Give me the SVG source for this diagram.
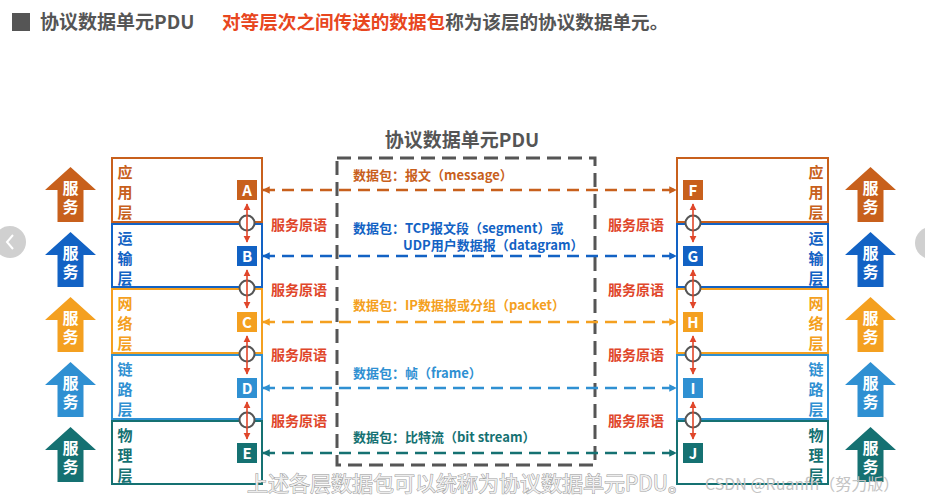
<svg xmlns="http://www.w3.org/2000/svg" width="925" height="500" viewBox="0 0 925 500">
<defs>
<style>
text{font-family:"Noto Sans CJK SC","Noto Sans",sans-serif;font-weight:bold}
.lay{fill:#fff;stroke-width:2}
.lt{font-size:15px;writing-mode:vertical-rl;letter-spacing:5px}
.let{font-size:15px;fill:#fff;text-anchor:middle}
.svc{font-size:16px;fill:#fff;writing-mode:vertical-rl;letter-spacing:3px}
.prim{font-size:14px;fill:#E0462A}
.pkt{font-size:13px}
.conn{fill:none;stroke-width:2.5;stroke-dasharray:12 7}
.sap{fill:#fff;stroke:#555;stroke-width:2}
.red{stroke:#E0462A;stroke-width:1.6;marker-start:url(#mr);marker-end:url(#mr)}
</style>
<marker id="m1" viewBox="0 0 10 10" refX="9" refY="5" markerWidth="3" markerHeight="3" orient="auto-start-reverse"><path d="M0,0L10,5L0,10z" fill="#C8601C"/></marker>
<marker id="m2" viewBox="0 0 10 10" refX="9" refY="5" markerWidth="3" markerHeight="3" orient="auto-start-reverse"><path d="M0,0L10,5L0,10z" fill="#1262C4"/></marker>
<marker id="m3" viewBox="0 0 10 10" refX="9" refY="5" markerWidth="3" markerHeight="3" orient="auto-start-reverse"><path d="M0,0L10,5L0,10z" fill="#F4A020"/></marker>
<marker id="m4" viewBox="0 0 10 10" refX="9" refY="5" markerWidth="3" markerHeight="3" orient="auto-start-reverse"><path d="M0,0L10,5L0,10z" fill="#2F90D2"/></marker>
<marker id="m5" viewBox="0 0 10 10" refX="9" refY="5" markerWidth="3" markerHeight="3" orient="auto-start-reverse"><path d="M0,0L10,5L0,10z" fill="#157172"/></marker>
<marker id="mr" viewBox="0 0 10 10" refX="9" refY="5" markerWidth="4.5" markerHeight="4.5" orient="auto-start-reverse"><path d="M0,0L10,5L0,10z" fill="#E0462A"/></marker>
<path id="arr" d="M0,0 L25.5,23 L13,23 L13,55 L-13,55 L-13,23 L-25.5,23 Z"/>
</defs>
<rect width="925" height="500" fill="#fff"/>

<g id="header">
<rect x="12" y="13" width="18" height="18" fill="#555"/>
<text x="40" y="29" font-size="19" fill="#555">协议数据单元PDU</text>
<text x="222" y="29" font-size="18.6" fill="#E8461E">对等层次之间传送的数据包<tspan fill="#555">称为该层的协议数据单元。</tspan></text>
</g>

<g id="pdu-box">
<text x="462" y="147" font-size="19" fill="#555" text-anchor="middle">协议数据单元PDU</text>
<rect x="337" y="158" width="258" height="307" fill="none" stroke="#555" stroke-width="3" stroke-dasharray="14 7"/>
</g>

<g id="connectors">
<line class="conn" x1="263" y1="190" x2="676" y2="190" stroke="#C8601C" marker-start="url(#m1)" marker-end="url(#m1)"/>
<line class="conn" x1="263" y1="256" x2="676" y2="256" stroke="#1262C4" marker-start="url(#m2)" marker-end="url(#m2)"/>
<line class="conn" x1="263" y1="322" x2="676" y2="322" stroke="#F4A020" marker-start="url(#m3)" marker-end="url(#m3)"/>
<line class="conn" x1="263" y1="388" x2="676" y2="388" stroke="#2F90D2" marker-start="url(#m4)" marker-end="url(#m4)"/>
<line class="conn" x1="263" y1="453" x2="676" y2="453" stroke="#157172" marker-start="url(#m5)" marker-end="url(#m5)"/>
</g>

<g id="pdu-labels">
<text class="pkt" x="353" y="180" fill="#C8601C">数据包：报文（message）</text>
<text class="pkt" x="353" y="233" fill="#1262C4">数据包：TCP报文段（segment）或</text>
<text class="pkt" x="403" y="250" fill="#1262C4">UDP用户数据报（datagram）</text>
<text class="pkt" x="353" y="310" fill="#F4A020">数据包：IP数据报或分组（packet）</text>
<text class="pkt" x="353" y="378" fill="#2F90D2">数据包：帧（frame）</text>
<text class="pkt" x="353" y="442" fill="#157172">数据包：比特流（bit stream）</text>
</g>

<g id="left-stack">
<rect class="lay" x="112" y="158" width="150" height="64" stroke="#C8601C"/>
<rect class="lay" x="112" y="224" width="150" height="63" stroke="#1262C4"/>
<rect class="lay" x="112" y="289" width="150" height="64" stroke="#F4A020"/>
<rect class="lay" x="112" y="355" width="150" height="64" stroke="#2F90D2"/>
<rect class="lay" x="112" y="421" width="150" height="63" stroke="#157172"/>
<text class="lt" x="125" y="164.5" fill="#C8601C">应用层</text>
<text class="lt" x="125" y="230.5" fill="#1262C4">运输层</text>
<text class="lt" x="125" y="295.5" fill="#F4A020">网络层</text>
<text class="lt" x="125" y="361.5" fill="#2F90D2">链路层</text>
<text class="lt" x="125" y="427.5" fill="#157172">物理层</text>
</g>

<g id="node-A"><rect x="237" y="180" width="20" height="20" fill="#C8601C"/><text class="let" x="247" y="195.5">A</text></g>
<g id="node-B"><rect x="237" y="246" width="20" height="20" fill="#1262C4"/><text class="let" x="247" y="261.5">B</text></g>
<g id="node-C"><rect x="237" y="312" width="20" height="20" fill="#F4A020"/><text class="let" x="247" y="327.5">C</text></g>
<g id="node-D"><rect x="237" y="378" width="20" height="20" fill="#2F90D2"/><text class="let" x="247" y="393.5">D</text></g>
<g id="node-E"><rect x="237" y="443" width="20" height="20" fill="#157172"/><text class="let" x="247" y="458.5">E</text></g>

<g id="right-stack">
<rect class="lay" x="677" y="158" width="151" height="64" stroke="#C8601C"/>
<rect class="lay" x="677" y="224" width="151" height="63" stroke="#1262C4"/>
<rect class="lay" x="677" y="289" width="151" height="64" stroke="#F4A020"/>
<rect class="lay" x="677" y="355" width="151" height="64" stroke="#2F90D2"/>
<rect class="lay" x="677" y="421" width="151" height="63" stroke="#157172"/>
<text class="lt" x="816" y="164.5" fill="#C8601C">应用层</text>
<text class="lt" x="816" y="230.5" fill="#1262C4">运输层</text>
<text class="lt" x="816" y="295.5" fill="#F4A020">网络层</text>
<text class="lt" x="816" y="361.5" fill="#2F90D2">链路层</text>
<text class="lt" x="816" y="427.5" fill="#157172">物理层</text>
</g>

<g id="node-F"><rect x="683" y="180" width="20" height="20" fill="#C8601C"/><text class="let" x="693" y="195.5">F</text></g>
<g id="node-G"><rect x="683" y="246" width="20" height="20" fill="#1262C4"/><text class="let" x="693" y="261.5">G</text></g>
<g id="node-H"><rect x="683" y="312" width="20" height="20" fill="#F4A020"/><text class="let" x="693" y="327.5">H</text></g>
<g id="node-I"><rect x="683" y="378" width="20" height="20" fill="#2F90D2"/><text class="let" x="693" y="393.5">I</text></g>
<g id="node-J"><rect x="683" y="443" width="20" height="20" fill="#157172"/><text class="let" x="693" y="458.5">J</text></g>

<g id="primitives">
<circle class="sap" cx="247" cy="223" r="7.5"/>
<circle class="sap" cx="247" cy="288" r="7.5"/>
<circle class="sap" cx="247" cy="354" r="7.5"/>
<circle class="sap" cx="247" cy="420" r="7.5"/>
<circle class="sap" cx="693" cy="223" r="7.5"/>
<circle class="sap" cx="693" cy="288" r="7.5"/>
<circle class="sap" cx="693" cy="354" r="7.5"/>
<circle class="sap" cx="693" cy="420" r="7.5"/>
<line class="red" x1="247" y1="204" x2="247" y2="242"/>
<line class="red" x1="247" y1="270" x2="247" y2="308"/>
<line class="red" x1="247" y1="336" x2="247" y2="374"/>
<line class="red" x1="247" y1="402" x2="247" y2="439"/>
<line class="red" x1="693" y1="204" x2="693" y2="242"/>
<line class="red" x1="693" y1="270" x2="693" y2="308"/>
<line class="red" x1="693" y1="336" x2="693" y2="374"/>
<line class="red" x1="693" y1="402" x2="693" y2="439"/>
<text class="prim" x="271" y="230">服务原语</text>
<text class="prim" x="271" y="295">服务原语</text>
<text class="prim" x="271" y="360">服务原语</text>
<text class="prim" x="271" y="426">服务原语</text>
<text class="prim" x="608" y="230">服务原语</text>
<text class="prim" x="608" y="295">服务原语</text>
<text class="prim" x="608" y="360">服务原语</text>
<text class="prim" x="608" y="426">服务原语</text>
</g>

<g id="left-services">
<use href="#arr" x="70.5" y="167" fill="#C8601C"/>
<use href="#arr" x="70.5" y="232" fill="#1262C4"/>
<use href="#arr" x="70.5" y="297" fill="#F4A020"/>
<use href="#arr" x="70.5" y="362" fill="#2F90D2"/>
<use href="#arr" x="70.5" y="427" fill="#157172"/>
<text class="svc" x="70.5" y="180">服务</text>
<text class="svc" x="70.5" y="245">服务</text>
<text class="svc" x="70.5" y="310">服务</text>
<text class="svc" x="70.5" y="375">服务</text>
<text class="svc" x="70.5" y="440">服务</text>
</g>

<g id="right-services">
<use href="#arr" x="870.5" y="167" fill="#C8601C"/>
<use href="#arr" x="870.5" y="232" fill="#1262C4"/>
<use href="#arr" x="870.5" y="297" fill="#F4A020"/>
<use href="#arr" x="870.5" y="362" fill="#2F90D2"/>
<use href="#arr" x="870.5" y="427" fill="#157172"/>
<text class="svc" x="870.5" y="180">服务</text>
<text class="svc" x="870.5" y="245">服务</text>
<text class="svc" x="870.5" y="310">服务</text>
<text class="svc" x="870.5" y="375">服务</text>
<text class="svc" x="870.5" y="440">服务</text>
</g>

<g id="overlay">
<circle cx="10" cy="242" r="16" fill="#c4c4c4" opacity="0.8"/>
<path d="M13,235 L7,242 L13,249" fill="none" stroke="#fff" stroke-width="2"/>
<circle cx="931" cy="243" r="16" fill="#c4c4c4" opacity="0.8"/>
<text x="247" y="491" font-size="21" fill="#eeeeee" stroke="#9a9a9a" stroke-width="1" paint-order="stroke" style="font-weight:normal">上述各层数据包可以统称为协议数据单元PDU。</text>
<text x="705" y="490" font-size="16" fill="#c4c4c4" style="font-weight:normal">CSDN @Ruanfh（努力版）</text>
</g>
</svg>
